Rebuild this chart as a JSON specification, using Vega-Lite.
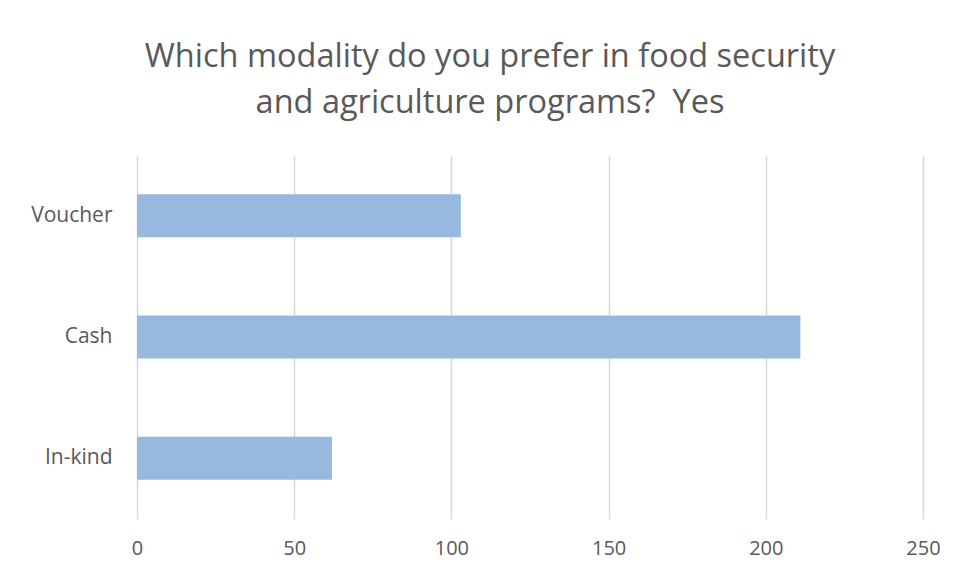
{
  "$schema": "https://vega.github.io/schema/vega-lite/v6.json",
  "width": 786,
  "height": 364,
  "autosize": {"type": "none"},
  "padding": {"left": 137, "top": 155, "right": 35, "bottom": 57},
  "background": "white",
  "title": {
    "text": ["Which modality do you prefer in food security", "and agriculture programs?\u00a0 Yes"],
    "anchor": "middle",
    "frame": "group",
    "dx": -40,
    "offset": 36,
    "font": "Open Sans",
    "fontSize": 32.5,
    "fontWeight": "normal",
    "color": "#595959",
    "lineHeight": 46
  },
  "data": {
    "values": [
      {"modality": "Voucher", "count": 103},
      {"modality": "Cash", "count": 211},
      {"modality": "In-kind", "count": 62}
    ]
  },
  "mark": {"type": "bar", "color": "#97B9E0"},
  "encoding": {
    "y": {
      "field": "modality",
      "type": "nominal",
      "sort": ["Voucher", "Cash", "In-kind"],
      "scale": {"paddingInner": 0.646, "paddingOuter": 0.323},
      "axis": {
        "title": null,
        "domain": false,
        "ticks": false,
        "labelPadding": 25,
        "labelFont": "Open Sans",
        "labelFontSize": 21,
        "labelColor": "#595959"
      }
    },
    "x": {
      "field": "count",
      "type": "quantitative",
      "scale": {"domain": [0, 250], "nice": false},
      "axis": {
        "title": null,
        "values": [0, 50, 100, 150, 200, 250],
        "domain": false,
        "ticks": false,
        "grid": true,
        "gridColor": "#D9D9D9",
        "gridWidth": 1.5,
        "labelFlush": false,
        "labelPadding": 19,
        "labelFont": "Open Sans",
        "labelFontSize": 20,
        "labelColor": "#595959"
      }
    }
  },
  "config": {"view": {"stroke": null}}
}
